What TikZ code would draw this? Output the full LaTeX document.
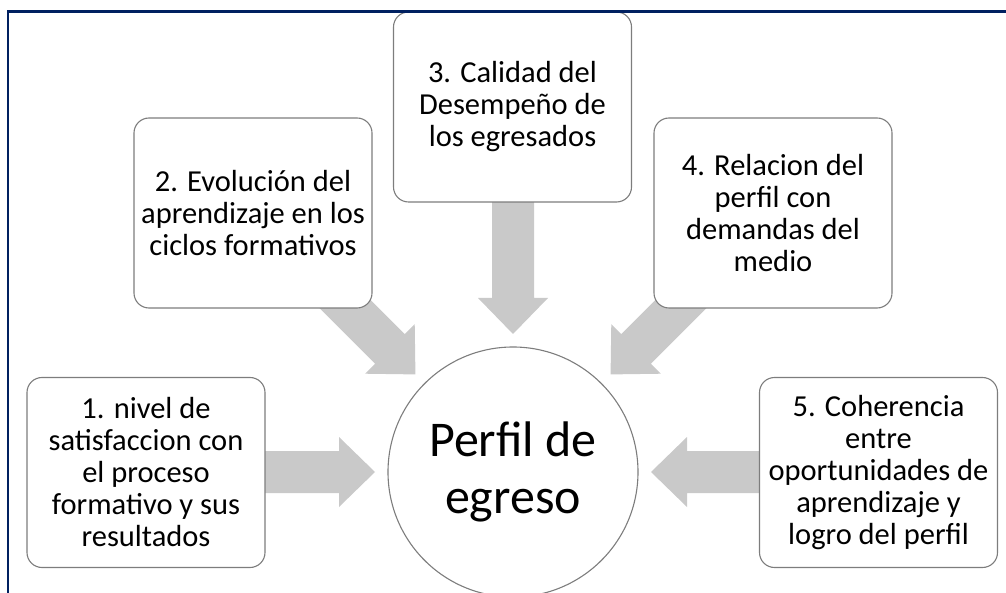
\documentclass[tikz,border=0pt]{standalone}
\usepackage{fontspec}
\setmainfont{Carlito}
\usetikzlibrary{calc}
\definecolor{navy}{RGB}{0,32,96}
\definecolor{arrowgray}{RGB}{201,201,201}
\definecolor{boxline}{RGB}{125,125,125}
\newcommand\blockarrow[3]{%
  \fill[arrowgray, shift={(#1)}, rotate=#2] (0,0) -- (-36,35) -- (-36,21) -- (-#3,21) -- (-#3,-21) -- (-36,-21) -- (-36,-35) -- cycle;}
\tikzset{
  box/.style={draw=boxline, line width=1.1pt, fill=white, rounded corners=15pt,
    minimum width=238pt, minimum height=190pt, align=center, inner sep=0pt,
    font=\fontsize{30.5}{32}\selectfont},
  hub/.style={circle, draw=boxline, line width=1.1pt, fill=white, minimum size=250pt,
    inner sep=0pt, align=center, font=\fontsize{50}{57}\selectfont},
  frame/.style={draw=navy, line width=2.5pt}
}
\begin{document}
\begin{tikzpicture}[x=1pt, y=1pt]
\useasboundingbox (0,0) rectangle (1006,592);
\clip (0,0) rectangle (1006,592);
% hub position first (for arrow coordinates)
\coordinate (hc) at (513,120);
\coordinate (t1) at ($(hc)+(180:138)$);
\coordinate (t2) at ($(hc)+(135:138)$);
\coordinate (t3) at ($(hc)+(90:138)$);
\coordinate (t4) at ($(hc)+(45:138)$);
\coordinate (t5) at ($(hc)+(0:138)$);
% block arrows (drawn behind boxes)
\blockarrow{t1}{0}{115}
\blockarrow{t2}{-45}{130}
\blockarrow{t3}{-90}{140}
\blockarrow{t4}{-135}{130}
\blockarrow{t5}{180}{115}
% boxes
\node[box] (b1) at (146,119.5) {1. nivel de\\satisfaccion con\\el proceso\\formativo y sus\\resultados};
\node[box] (b2) at (253,379) {2. Evolución del\\aprendizaje en los\\ciclos formativos};
\node[box] (b3) at (512.5,485) {3. Calidad del\\Desempeño de\\los egresados};
\node[box] (b4) at (773,379) {4. Relacion del\\perfil con\\demandas del\\medio};
\node[box] (b5) at (878.5,119.5) {5. Coherencia\\entre\\oportunidades de\\aprendizaje y\\logro del perfil};
\node[hub] (hub) at (hc) {Perfil de\\egreso};
% frame
\draw[frame] (8,-20) -- (8,580.5) -- (1030,580.5);
\end{tikzpicture}
\end{document}
